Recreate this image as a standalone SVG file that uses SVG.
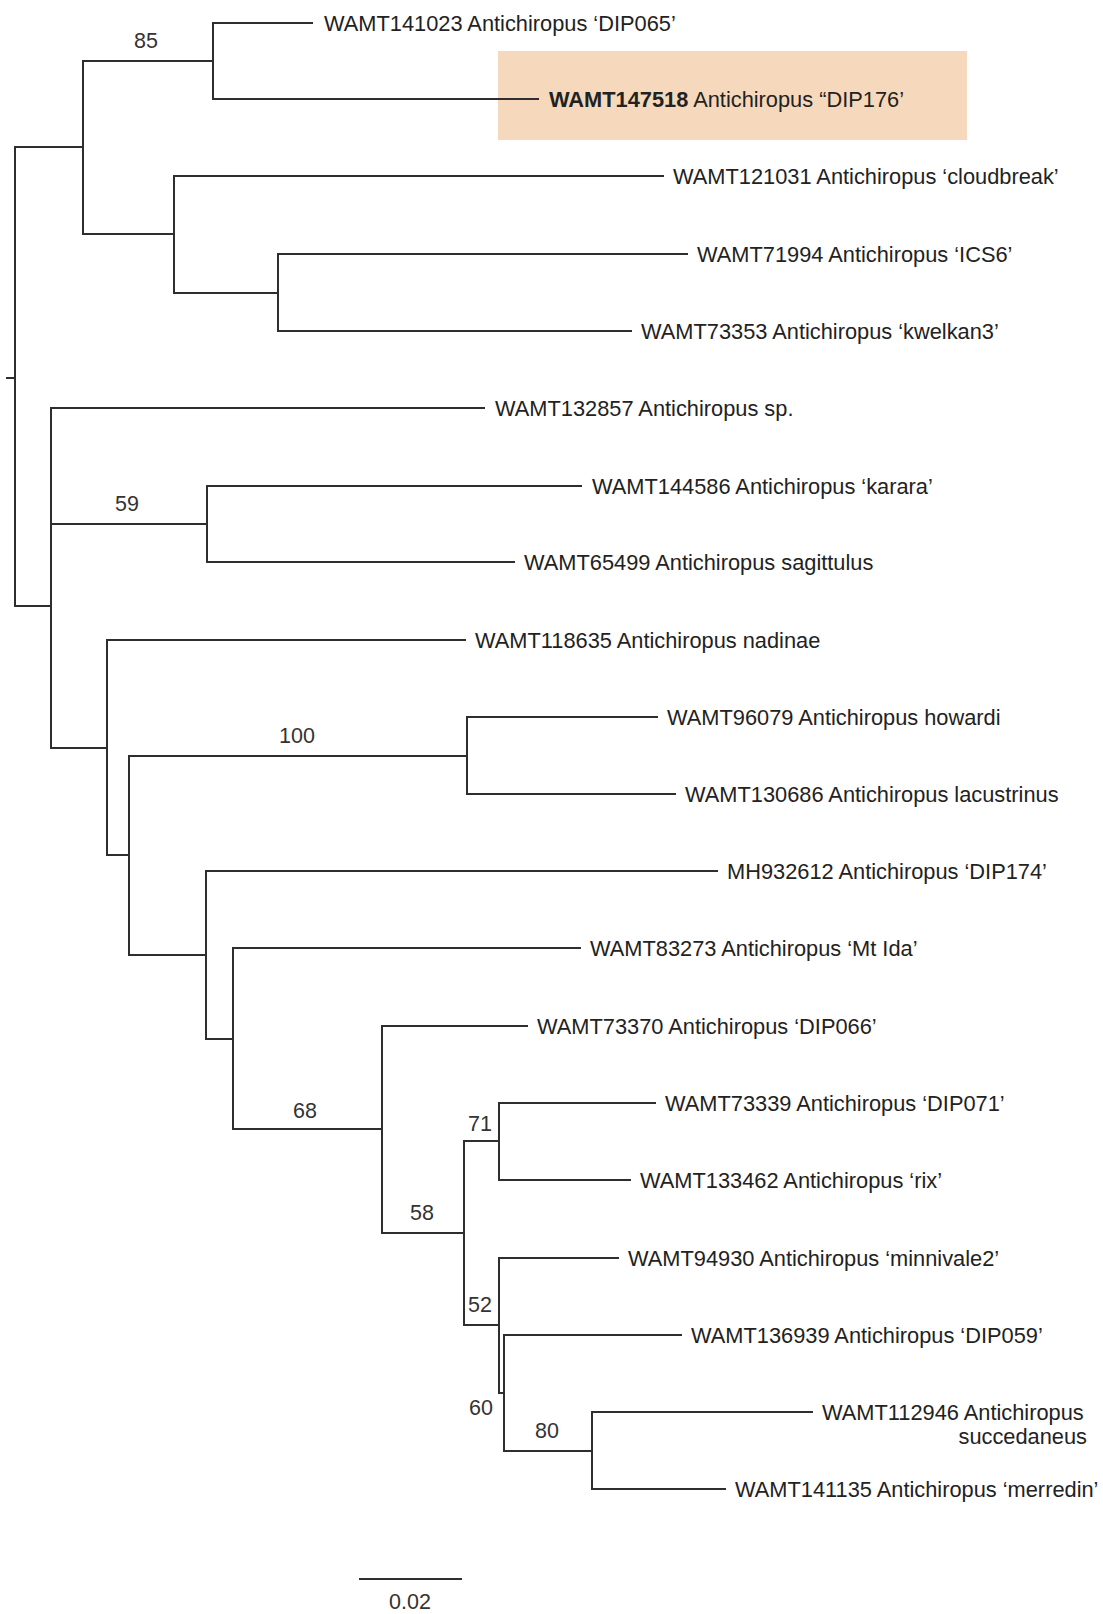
<svg xmlns="http://www.w3.org/2000/svg" width="1103" height="1614" viewBox="0 0 1103 1614">
<style>
.br{fill:none;stroke:#2e2e2e;stroke-width:2;stroke-linecap:square}
.lb{font-family:"Liberation Sans",Arial,sans-serif;font-size:21.8px;fill:#222}
.sv{font-family:"Liberation Sans",Arial,sans-serif;font-size:21.5px;fill:#333;text-anchor:middle}
</style>
<rect x="0" y="0" width="1103" height="1614" fill="#ffffff"/>
<rect id="highlight" x="498" y="51" width="469" height="89" fill="#F6D9BC"/>
<g id="connectors">
<path class="br" d="M7,378 H15 M15,147 V606"/>
<path class="br" d="M15,147 H83 M83,61 V234"/>
<path class="br" d="M83,61 H213 M213,23 V99"/>
<path class="br" d="M213,23 H312"/>
<path class="br" d="M213,99 H538"/>
<path class="br" d="M83,234 H174 M174,176 V293"/>
<path class="br" d="M174,176 H663"/>
<path class="br" d="M174,293 H278 M278,254 V331"/>
<path class="br" d="M278,254 H687"/>
<path class="br" d="M278,331 H631"/>
<path class="br" d="M15,606 H51 M51,408 V748"/>
<path class="br" d="M51,408 H484"/>
<path class="br" d="M51,524 H207 M207,486 V562"/>
<path class="br" d="M207,486 H581"/>
<path class="br" d="M207,562 H514"/>
<path class="br" d="M51,748 H107 M107,640 V855"/>
<path class="br" d="M107,640 H465"/>
<path class="br" d="M107,855 H129 M129,756 V955"/>
<path class="br" d="M129,756 H467 M467,717 V794"/>
<path class="br" d="M467,717 H657"/>
<path class="br" d="M467,794 H675"/>
<path class="br" d="M129,955 H206 M206,871 V1039"/>
<path class="br" d="M206,871 H717"/>
<path class="br" d="M206,1039 H233 M233,948 V1129"/>
<path class="br" d="M233,948 H580"/>
<path class="br" d="M233,1129 H382 M382,1026 V1233"/>
<path class="br" d="M382,1026 H527"/>
<path class="br" d="M382,1233 H464 M464,1141 V1325"/>
<path class="br" d="M464,1141 H499 M499,1103 V1180"/>
<path class="br" d="M499,1103 H655"/>
<path class="br" d="M499,1180 H630"/>
<path class="br" d="M464,1325 H499 M499,1258 V1393"/>
<path class="br" d="M499,1258 H618"/>
<path class="br" d="M499,1393 H504 M504,1335 V1451"/>
<path class="br" d="M504,1335 H681"/>
<path class="br" d="M504,1451 H592 M592,1412 V1489"/>
<path class="br" d="M592,1412 H812"/>
<path class="br" d="M592,1489 H725"/>
</g>
<g id="leaf-WAMT141023"><text class="lb" x="324" y="30.5">WAMT141023 Antichiropus ‘DIP065’</text></g>
<g id="leaf-WAMT147518"><text class="lb" x="549" y="106.5"><tspan font-weight="bold">WAMT147518</tspan> Antichiropus “DIP176’</text></g>
<g id="leaf-WAMT121031"><text class="lb" x="673" y="183.5">WAMT121031 Antichiropus ‘cloudbreak’</text></g>
<g id="leaf-WAMT71994"><text class="lb" x="697" y="261.5">WAMT71994 Antichiropus ‘ICS6’</text></g>
<g id="leaf-WAMT73353"><text class="lb" x="641" y="338.5">WAMT73353 Antichiropus ‘kwelkan3’</text></g>
<g id="leaf-WAMT132857"><text class="lb" x="495" y="415.5">WAMT132857 Antichiropus sp.</text></g>
<g id="leaf-WAMT144586"><text class="lb" x="592" y="493.5">WAMT144586 Antichiropus ‘karara’</text></g>
<g id="leaf-WAMT65499"><text class="lb" x="524" y="569.5">WAMT65499 Antichiropus sagittulus</text></g>
<g id="leaf-WAMT118635"><text class="lb" x="475" y="647.5">WAMT118635 Antichiropus nadinae</text></g>
<g id="leaf-WAMT96079"><text class="lb" x="667" y="724.5">WAMT96079 Antichiropus howardi</text></g>
<g id="leaf-WAMT130686"><text class="lb" x="685" y="801.5">WAMT130686 Antichiropus lacustrinus</text></g>
<g id="leaf-MH932612"><text class="lb" x="727" y="878.5">MH932612 Antichiropus ‘DIP174’</text></g>
<g id="leaf-WAMT83273"><text class="lb" x="590" y="955.5">WAMT83273 Antichiropus ‘Mt Ida’</text></g>
<g id="leaf-WAMT73370"><text class="lb" x="537" y="1033.5">WAMT73370 Antichiropus ‘DIP066’</text></g>
<g id="leaf-WAMT73339"><text class="lb" x="665" y="1110.5">WAMT73339 Antichiropus ‘DIP071’</text></g>
<g id="leaf-WAMT133462"><text class="lb" x="640" y="1187.5">WAMT133462 Antichiropus ‘rix’</text></g>
<g id="leaf-WAMT94930"><text class="lb" x="628" y="1265.5">WAMT94930 Antichiropus ‘minnivale2’</text></g>
<g id="leaf-WAMT136939"><text class="lb" x="691" y="1342.5">WAMT136939 Antichiropus ‘DIP059’</text></g>
<g id="leaf-WAMT112946"><text class="lb" x="822" y="1419.5">WAMT112946 Antichiropus</text><text class="lb" x="1087" y="1443.5" text-anchor="end">succedaneus</text></g>
<g id="leaf-WAMT141135"><text class="lb" x="735" y="1496.5">WAMT141135 Antichiropus ‘merredin’</text></g>
<g id="node-85"><text class="sv" x="146" y="48">85</text></g>
<g id="node-59"><text class="sv" x="127" y="511">59</text></g>
<g id="node-100"><text class="sv" x="297" y="743">100</text></g>
<g id="node-68"><text class="sv" x="305" y="1118">68</text></g>
<g id="node-58"><text class="sv" x="422" y="1220">58</text></g>
<g id="node-71"><text class="sv" x="480" y="1131">71</text></g>
<g id="node-52"><text class="sv" x="480" y="1312">52</text></g>
<g id="node-60"><text class="sv" x="481" y="1415">60</text></g>
<g id="node-80"><text class="sv" x="547" y="1438">80</text></g>
<g id="scale-bar">
<path class="br" d="M360,1579 H461"/>
<text class="sv" x="410" y="1609">0.02</text>
</g>
</svg>
